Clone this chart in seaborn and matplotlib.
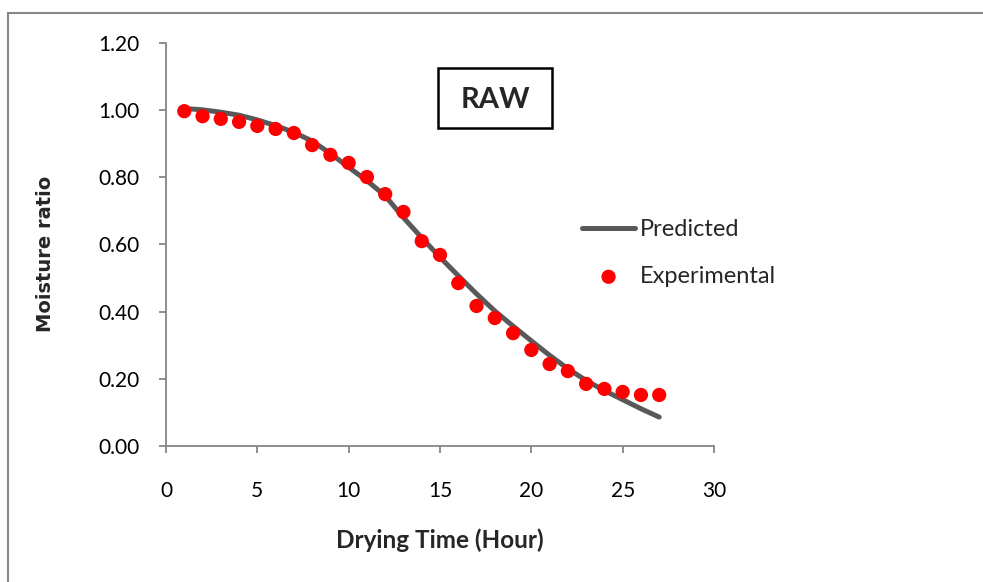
import matplotlib
matplotlib.use("Agg")
import matplotlib.pyplot as plt
from matplotlib.patches import Rectangle
import seaborn as sns
import pandas as pd

# ---- data ----
hours = list(range(1, 28))
experimental = [0.997, 0.982, 0.974, 0.965, 0.953, 0.944, 0.932, 0.896, 0.867, 0.843,
                0.801, 0.750, 0.697, 0.610, 0.569, 0.485, 0.417, 0.381, 0.336, 0.286,
                0.244, 0.223, 0.185, 0.170, 0.161, 0.152, 0.152]
predicted = [1.005, 1.001, 0.994, 0.985, 0.971, 0.954, 0.934, 0.908, 0.871, 0.830,
             0.790, 0.745, 0.680, 0.620, 0.562, 0.507, 0.453, 0.402, 0.357, 0.313,
             0.270, 0.230, 0.195, 0.165, 0.138, 0.111, 0.086]
x_ticks = [0, 5, 10, 15, 20, 25, 30]
y_ticks = [0.0, 0.2, 0.4, 0.6, 0.8, 1.0, 1.2]
y_tick_labels = ["0.00", "0.20", "0.40", "0.60", "0.80", "1.00", "1.20"]

df = pd.DataFrame({"hour": hours, "exp": experimental, "pred": predicted})

sns.set_theme(style="white")
plt.rcParams["font.family"] = ["Lato", "DejaVu Sans"]

W, H = 983, 582
fig = plt.figure(figsize=(W / 100, H / 100), dpi=100)
ax = fig.add_axes([166 / W, 1 - 446 / H, (714 - 166) / W, (446 - 43) / H])

sns.lineplot(data=df, x="hour", y="pred", ax=ax, color="#595959", linewidth=3.6,
             label="Predicted")
sns.scatterplot(data=df, x="hour", y="exp", ax=ax, color="#ff0000", s=105,
                edgecolor="none", label="Experimental", zorder=3)

ax.set_xlim(0, 30)
ax.set_ylim(0, 1.2)
ax.set_xticks(x_ticks)
ax.set_yticks(y_ticks)
ax.set_yticklabels(y_tick_labels)

for side in ["top", "right"]:
    ax.spines[side].set_visible(False)
for side in ["left", "bottom"]:
    ax.spines[side].set_color("#868686")
    ax.spines[side].set_linewidth(1.3)

ax.tick_params(axis="y", direction="out", length=5, width=1.3, color="#868686",
               pad=14, labelsize=15, labelcolor="black", left=True)
ax.tick_params(axis="x", direction="out", length=5, width=1.3, color="#868686",
               pad=20, labelsize=15, labelcolor="black", bottom=True)

ax.set_xlabel("Drying Time (Hour)", fontsize=17.5, fontweight="bold", labelpad=20)
ax.set_ylabel("Moisture ratio", fontsize=14, fontweight="bold",
              family=["DejaVu Sans"])
ax.yaxis.set_label_coords((55 - 166) / 548, (446 - 254) / 403)

# RAW box
ax.add_patch(Rectangle((14.9, 0.947), 6.25, 0.18, fill=False, edgecolor="black",
                       linewidth=1.8, zorder=4))
ax.text(18.05, 1.03, "RAW", fontsize=21, fontweight="bold", ha="center",
        va="center", zorder=5)

leg = ax.legend(loc="upper left", bbox_to_anchor=(582 / W, 1 - 219 / H),
                bbox_transform=fig.transFigure, frameon=False, fontsize=17,
                handlelength=2.25, handletextpad=0.2, labelspacing=1.1,
                borderpad=0, borderaxespad=0, markerscale=1.0)

# chart-area border
fig.patches.append(Rectangle((8 / W, -0.1), 1.2, 1 - 13 / H + 0.1,
                             transform=fig.transFigure, fill=False,
                             edgecolor="#888888", linewidth=1.5))

fig.savefig("out.png", dpi=100)
